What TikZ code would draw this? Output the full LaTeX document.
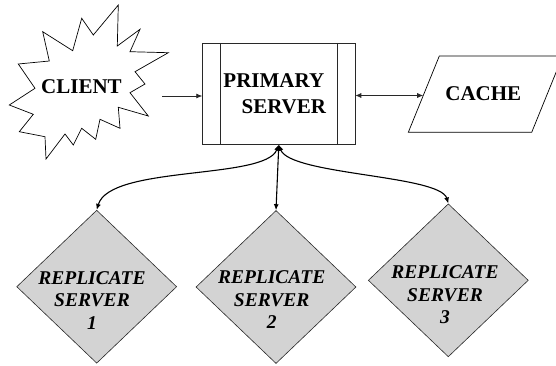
\documentclass[tikz,border=0pt]{standalone}
\usepackage{fontspec}
\setmainfont{Liberation Serif}
\usetikzlibrary{shapes.geometric,arrows.meta}
\definecolor{dgray}{RGB}{211,211,211}
\definecolor{lineg}{RGB}{40,40,40}
\tikzset{
  bigtxt/.style={font=\fontsize{21}{26}\selectfont\bfseries, inner sep=0pt},
  reptxt/.style={font=\fontsize{19.5}{22.5}\selectfont\bfseries\itshape, align=center, inner sep=0pt},
  repbox/.style={diamond, draw=lineg, line width=0.6pt, fill=dgray, inner sep=0pt, minimum width=160pt, minimum height=153pt},
  arr/.style={-{Latex[length=6pt,width=5pt]}, line width=0.7pt, draw=lineg},
  darr/.style={{Latex[length=6pt,width=5pt]}-{Latex[length=6pt,width=5pt]}, line width=0.7pt, draw=lineg},
  carr/.style={{Latex[length=6pt,width=5pt]}-{Latex[length=6pt,width=5pt]}, line width=1.1pt, draw=black},
}
\begin{document}
\begin{tikzpicture}[x=1pt,y=-1pt]
\useasboundingbox (0,0) rectangle (556,365);
% client starburst
\draw[line width=0.7pt] (118.3,5) -- (117.3,46) -- (140,29.3) -- (130,51.7) -- (168.3,52.7)
  -- (135,71.7) -- (145,84) -- (130,92.7) -- (148.3,116) -- (118.3,107.3) -- (120,128.3)
  -- (100,119.3) -- (95.7,139.3) -- (81.7,128.3) -- (73.3,145) -- (65,134) -- (46,159)
  -- (45,136.7) -- (19.3,131.7) -- (33.3,114.3) -- (9.3,105) -- (35,88.3) -- (18.3,64)
  -- (49.3,61) -- (42.7,31.7) -- (72.7,50.7) -- (81.7,18.3) -- (93.3,35) -- cycle;
\node[bigtxt] (client) at (81.5,86.7) {CLIENT};
% primary server
\node[draw=lineg, line width=0.7pt, minimum width=152.3pt, minimum height=101pt, inner sep=0pt,
      font=\fontsize{21}{26}\selectfont\bfseries, align=center] (primary) at (278.8,93.8)
      {PRIMARY\hspace*{10pt}\\\hspace*{10pt}SERVER};
\draw[lineg, line width=0.7pt] ([xshift=18.3pt]primary.north west) -- ([xshift=18.3pt]primary.south west);
\draw[lineg, line width=0.7pt] ([xshift=-18.3pt]primary.north east) -- ([xshift=-18.3pt]primary.south east);
% cache
\begin{scope}
\clip (0,0) rectangle (556,365);
\draw[line width=0.7pt] (408.3,132.3) -- (439.3,56) -- (562.7,56) -- (531.7,132.3) -- cycle;
\end{scope}
\node[bigtxt] (cache) at (483.3,93.3) {CACHE};
\coordinate (cachein) at (423.2,95.5);
% replicate servers
\node[repbox] (d1) at (96.7,286.7) {};
\node[repbox] (d2) at (276,287) {};
\node[repbox] (d3) at (448.3,280.3) {};
\node[reptxt] (t1) at (92,300.5) {REPLICATE\\SERVER\\1};
\node[reptxt] (t2) at (271.7,300) {REPLICATE\\SERVER\\2};
\node[reptxt] (t3) at (445,295) {REPLICATE\\SERVER\\3};
% connectors
\coordinate (cout) at (162,96);
\draw[arr] (cout) -- (primary.west |- cout);
\draw[darr] (primary.east |- cachein) -- (cachein);
\draw[carr] (primary.south) .. controls (265,180) and (110,165) .. (d1.north);
\draw[carr] (primary.south) -- (d2.north);
\draw[carr] (primary.south) .. controls (290,175) and (440,175) .. (d3.north);
\end{tikzpicture}
\end{document}
